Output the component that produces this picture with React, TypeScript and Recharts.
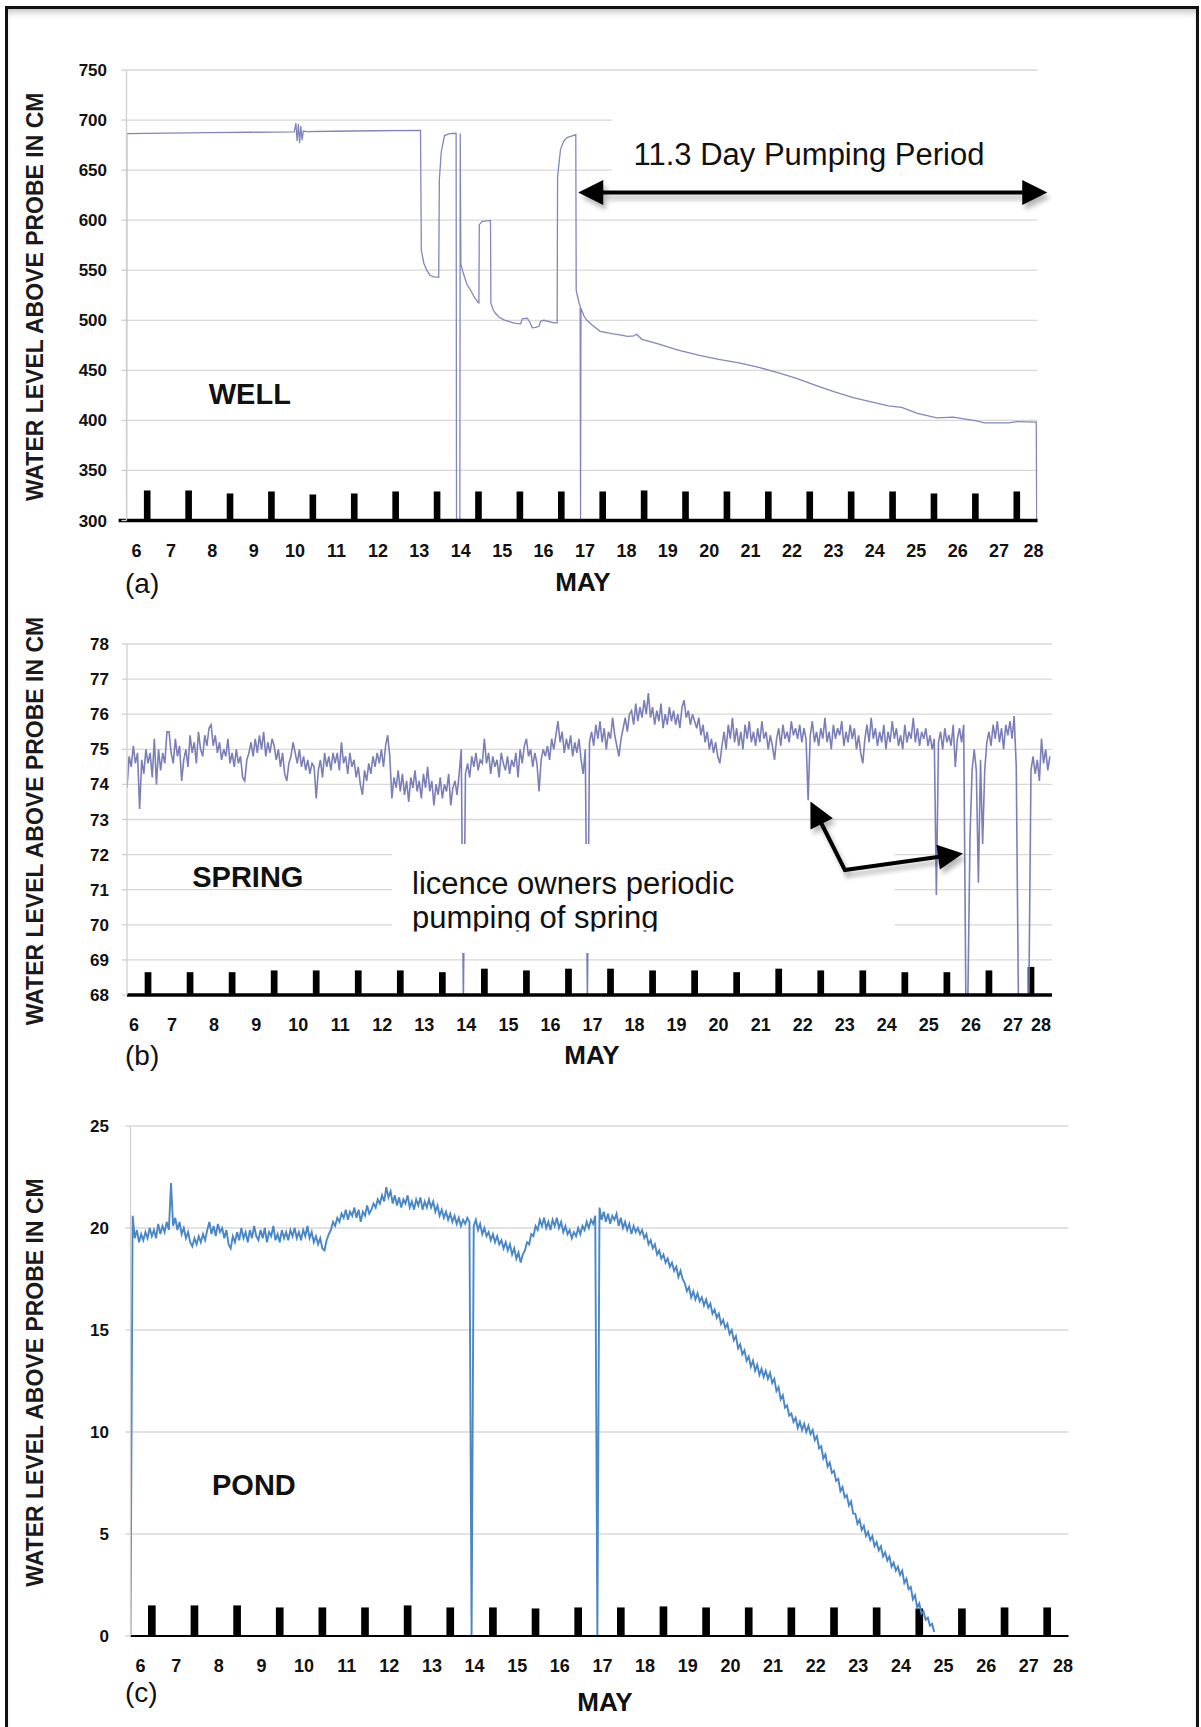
import React from "react";
import { LineChart, Line, XAxis, YAxis, CartesianGrid, ReferenceArea, ReferenceLine } from "recharts";

const FONT = '"Liberation Sans", Arial, Helvetica, sans-serif';

// ---------- shared axis data ----------
const DAYS = [6, 7, 8, 9, 10, 11, 12, 13, 14, 15, 16, 17, 18, 19, 20, 21, 22, 23, 24, 25, 26, 27, 28];
const BAR_DAYS = [6.5, 7.5, 8.5, 9.5, 10.5, 11.5, 12.5, 13.5, 14.5, 15.5, 16.5, 17.5, 18.5, 19.5, 20.5, 21.5, 22.5, 23.5, 24.5, 25.5, 26.5, 27.5];
const Y_TITLE = "WATER LEVEL ABOVE PROBE IN CM";
const X_TITLE = "MAY";

// ---------- (a) WELL ----------
const WELL_DAYS = [
  6.0, 6.005, 7.0, 8.0, 9.0, 10.05, 10.09, 10.12, 10.15, 10.18, 10.21, 10.24, 10.27, 10.35, 11.0, 12.0,
  13.1, 13.12, 13.18, 13.25, 13.33, 13.42, 13.54, 13.555, 13.6, 13.68, 13.8, 13.96, 13.97, 14.05, 14.06,
  14.075, 14.12, 14.22, 14.31, 14.4, 14.47, 14.51, 14.52, 14.59, 14.79, 14.8, 14.86, 14.91, 15.0, 15.11,
  15.36, 15.52, 15.56, 15.68, 15.74, 15.8, 15.88, 15.96, 16.0, 16.08, 16.32, 16.4, 16.41, 16.48, 16.56,
  16.64, 16.85, 16.86, 16.93, 16.955, 16.965, 16.975, 17.05, 17.12, 17.25, 17.44, 17.75, 17.92, 18.1,
  18.25, 18.32, 18.45, 18.88, 19.3, 19.84, 20.3, 20.79, 21.27, 21.75, 22.18, 22.71, 23.1, 23.57, 24.14,
  24.4, 24.72, 25.1, 25.57, 25.96, 26.53, 26.72, 27.3, 27.5, 27.97, 27.98,
];
const WELL_LEVELS = [
  300, 686.5, 687.0, 687.4, 687.8, 688.2, 697, 679, 696, 677, 694, 680, 689, 688.5, 688.8, 689.3,
  689.6, 570, 557, 550, 545, 543.3, 543, 640, 668, 684.5, 686.5, 686.8, 300, 300, 686.5,
  556, 549, 536, 530, 523, 519, 517.5, 595.5, 598.8, 599.8, 517, 510, 507, 503, 500.5,
  497.2, 496.5, 501.5, 502, 498, 492.5, 493, 494, 499, 500, 497.5, 497.5, 643, 670.5, 679,
  682.5, 685.5, 530, 517, 514.5, 300, 512, 504, 500, 495, 489, 486.5, 485.5, 484,
  484.5, 486, 481, 476, 470.5, 465, 461, 457.5, 453, 447.4, 442, 434, 428.5, 422.5, 417,
  414.5, 413, 407, 402.6, 403.2, 399.5, 397.6, 397.6, 398.8, 398.3, 300,
];
const WELL_TICKS = [300, 350, 400, 450, 500, 550, 600, 650, 700, 750];
const WELL_BAR_TOPS = [330, 330, 327, 329, 326, 327, 329, 329, 329, 329, 329, 329, 330, 329, 329, 329, 329, 329, 329, 327, 327, 329];
const PUMPING_ARROW = { fromDay: 16.91, toDay: 28.236, level: 627.6 };
const PUMPING_BOX = { fromDay: 17.72, toDay: 28.3, low: 605, high: 742 };

// ---------- (b) SPRING ----------
const SPRING_START_DAY = 6;
const SPRING_STEP_DAY = 0.05;
const SPRING_LEVELS = [
  73.9, 74.8, 74.5, 75.1, 74.6, 74.9, 73.3, 74.7, 74.3, 75.0, 74.6, 74.9, 74.2, 75.3, 74.0, 75.0, 74.4, 74.9, 74.6, 75.5,
  75.5, 74.9, 74.6, 75.3, 74.8, 75.1, 74.1, 74.7, 75.0, 74.5, 75.4, 74.9, 75.2, 74.6, 75.5, 75.0, 74.8, 75.4, 75.1, 75.6,
  75.7, 75.1, 75.4, 74.9, 75.2, 74.7, 75.0, 74.8, 75.3, 74.6, 74.9, 74.5, 75.0, 74.6, 74.8, 74.2, 74.1, 74.7, 74.9, 75.2,
  74.8, 75.3, 74.9, 75.4, 75.0, 75.5, 74.8, 75.2, 74.9, 75.3, 75.1, 74.7, 75.0, 74.5, 74.9, 74.3, 74.1, 74.6, 74.8, 75.2,
  74.9, 74.6, 75.0, 74.5, 74.8, 74.4, 74.7, 74.3, 74.6, 74.5, 73.6, 74.4, 74.7, 74.2, 74.9, 74.5, 74.8, 74.4, 74.9, 74.6,
  74.9, 74.4, 75.2, 74.6, 74.8, 74.3, 74.9, 74.5, 74.7, 74.2, 74.5, 74.0, 73.7, 74.4, 74.1, 74.6, 74.3, 74.8, 74.5, 74.9,
  74.6, 75.0, 74.5, 75.1, 75.4, 74.8, 73.6, 74.2, 73.9, 74.4, 73.8, 74.3, 73.7, 74.1, 73.5, 74.2, 73.9, 74.4, 73.8, 74.1,
  73.6, 74.3, 73.9, 74.5, 73.8, 74.1, 73.4, 74.0, 73.7, 74.2, 73.6, 74.0, 73.8, 74.3, 73.4, 73.9, 74.1, 73.7, 74.3, 75.0,
  68, 74.3, 74.6, 74.2, 74.8, 74.5, 74.9, 74.4, 74.7, 74.6, 75.3, 74.6, 74.9, 74.3, 74.8, 74.5, 74.7, 74.2, 74.9, 74.6,
  74.4, 74.8, 74.3, 74.7, 74.5, 74.9, 74.2, 75.0, 74.6, 75.1, 75.3, 74.8, 75.0, 74.5, 74.9, 74.6, 73.8, 74.7, 75.0, 74.8,
  75.1, 74.7, 75.3, 75.0, 75.4, 75.8, 75.2, 75.5, 74.9, 75.3, 75.0, 75.4, 74.8, 75.2, 74.9, 75.3, 74.7, 74.3, 75.0, 68,
  75.2, 75.5, 75.1, 75.7, 75.3, 75.8, 75.2, 75.6, 75.0, 75.5, 75.3, 75.9, 75.4, 75.1, 74.8, 75.3, 75.6, 75.9, 75.5, 76.0,
  76.1, 75.7, 76.3, 75.8, 76.2, 75.9, 76.4, 76.0, 76.6, 75.9, 76.2, 75.7, 76.1, 75.8, 76.3, 75.6, 76.0, 75.7, 76.2, 75.8,
  76.1, 75.7, 76.0, 75.6, 76.2, 76.4, 75.9, 76.1, 75.7, 76.0, 75.8, 75.6, 75.9, 75.4, 75.7, 75.2, 75.5, 75.0, 75.3, 74.9,
  75.2, 74.8, 74.6, 75.1, 75.5, 75.0, 75.7, 75.3, 75.9, 75.2, 75.6, 75.1, 75.5, 75.0, 75.7, 75.3, 75.8, 75.2, 75.5, 75.1,
  75.6, 75.2, 75.8, 75.3, 75.5, 75.0, 75.4, 75.1, 74.7, 75.3, 75.6, 75.1, 75.7, 75.3, 75.5, 75.2, 75.8, 75.4, 75.6, 75.3,
  75.7, 75.2, 75.6, 75.3, 73.55, 75.4, 75.8, 75.2, 75.5, 75.1, 75.6, 75.3, 75.9, 75.2, 75.5, 75.0, 75.7, 75.3, 75.6, 75.4,
  75.8, 75.1, 75.5, 75.2, 75.7, 75.3, 75.6, 75.0, 75.4, 74.9, 74.6, 75.3, 75.7, 75.2, 75.9, 75.3, 75.6, 75.1, 75.5, 75.2,
  75.7, 75.0, 75.5, 75.2, 75.8, 75.3, 75.6, 75.1, 75.4, 75.0, 75.7, 75.2, 75.5, 75.3, 75.9, 75.2, 75.6, 75.1, 75.5, 75.3,
  75.6, 75.1, 75.4, 75.0, 75.3, 70.85, 75.2, 75.5, 75.0, 75.6, 75.2, 75.4, 75.1, 75.7, 74.5, 75.3, 75.6, 75.2, 75.7, 68,
  68, 72.5, 74.4, 75.0, 74.4, 71.2, 74.7, 72.3, 74.4, 75.2, 75.5, 75.1, 75.7, 75.3, 75.8, 75.2, 75.6, 75.0, 75.7, 75.4,
  75.8, 75.3, 75.95, 74.5, 68, 68, 68, 68, 68, 68, 74.4, 74.8, 74.3, 74.7, 74.1, 75.3, 74.6, 75.0, 74.4, 74.8,
];
const SPRING_TICKS = [68, 69, 70, 71, 72, 73, 74, 75, 76, 77, 78];
const SPRING_BAR_TOPS = [68.65, 68.65, 68.65, 68.7, 68.7, 68.7, 68.7, 68.65, 68.75, 68.7, 68.75, 68.75, 68.7, 68.7, 68.65, 68.75, 68.7, 68.7, 68.65, 68.65, 68.7, 68.8];
const SPRING_ARROW_VERTEX = { day: 23.075, level: 71.56 };
const SPRING_ARROW_TIPS = [
  { day: 22.254, level: 73.51 },
  { day: 25.881, level: 72.03 },
];
const SPRING_NOTE_BOX = { fromDay: 12.3, toDay: 24.26, low: 69.2, high: 72.3 };

// ---------- (c) POND ----------
const POND_START_DAY = 6;
const POND_STEP_DAY = 0.05;
const POND_LEVELS = [
  0, 20.6, 19.5, 19.9, 19.3, 19.7, 19.4, 19.8, 19.5, 20.0, 19.6, 19.9, 19.5, 20.2, 19.7, 20.1, 19.8, 20.3, 19.9, 22.2,
  20.1, 20.5, 19.9, 20.3, 19.7, 20.0, 19.5, 19.8, 19.3, 19.1, 19.5, 19.2, 19.6, 19.3, 19.7, 19.4, 19.9, 20.3, 19.7, 20.1,
  19.6, 20.2, 19.8, 20.0, 19.5, 19.9, 19.2, 19.0, 19.6, 19.3, 19.8, 19.4, 20.0, 19.5, 19.8, 19.3, 19.9, 19.5, 20.1, 19.6,
  19.4, 19.9, 19.5, 20.0, 19.3, 19.8, 19.6, 20.1, 19.4, 19.7, 19.3, 19.9, 19.5, 19.8, 19.4, 19.9, 19.6, 20.0, 19.5, 19.8,
  19.4, 19.9, 19.6, 20.1, 19.5, 19.8, 19.3, 19.6, 19.2, 19.5, 19.0, 18.9, 19.4, 19.7, 19.9, 20.3, 20.1, 20.5, 20.3, 20.7,
  20.5, 20.9, 20.4, 20.8, 20.6, 21.0, 20.5, 20.9, 20.3, 20.8, 20.6, 21.1, 20.7, 20.9, 21.2, 21.0, 21.4, 21.2, 21.6, 21.3,
  22.0, 21.5, 21.8, 21.2, 21.6, 21.1, 21.5, 21.0, 21.4, 21.2, 21.6, 21.0, 21.3, 20.9, 21.4, 21.1, 21.5, 20.9, 21.3, 21.0,
  21.4, 21.0, 21.3, 20.8, 21.1, 20.6, 20.9, 20.5, 20.8, 20.4, 20.7, 20.3, 20.6, 20.2, 20.5, 20.1, 20.4, 20.2, 20.5, 20.3,
  0, 20.1, 20.4, 19.9, 20.2, 19.7, 20.0, 19.6, 19.8, 19.4, 19.7, 19.3, 19.6, 19.2, 19.4, 19.0, 19.3, 18.9, 19.2, 18.7,
  19.0, 18.5, 18.8, 18.3, 18.7, 18.9, 19.3, 19.2, 19.7, 19.6, 20.1, 19.9, 20.4, 20.1, 20.5, 20.0, 20.3, 19.9, 20.4, 20.1,
  20.5, 20.0, 20.3, 19.8, 20.1, 19.7, 19.9, 19.5, 19.8, 19.6, 20.0, 19.7, 20.1, 19.9, 20.3, 20.0, 20.4, 20.2, 20.6, 0,
  21.0, 20.4, 20.8, 20.3, 20.7, 20.2, 20.6, 20.4, 20.7, 20.1, 20.5, 20.0, 20.3, 19.9, 20.2, 19.7, 20.1, 19.8, 20.0, 19.7,
  19.9, 19.5, 19.7, 19.2, 19.4, 19.0, 19.2, 18.7, 18.9, 18.5, 18.7, 18.3, 18.5, 18.1, 18.3, 17.9, 18.1, 17.6, 17.9, 17.5,
  17.3, 16.9, 17.1, 16.6, 16.9, 16.5, 16.8, 16.4, 16.6, 16.2, 16.5, 16.1, 16.3, 15.8, 16.0, 15.6, 15.8, 15.3, 15.5, 15.1,
  15.3, 14.8, 15.0, 14.5, 14.7, 14.1, 14.3, 13.8, 14.0, 13.5, 13.7, 13.2, 13.5, 13.0, 13.3, 12.8, 13.1, 12.7, 13.0, 12.6,
  12.9, 12.4, 12.6, 12.0, 12.2, 11.6, 11.8, 11.2, 11.3, 10.8, 10.9, 10.5, 10.7, 10.2, 10.5, 10.1, 10.4, 10.0, 10.3, 9.9,
  10.1, 9.6, 9.8, 9.2, 9.3, 8.7, 8.9, 8.3, 8.5, 8.0, 8.1, 7.6, 7.7, 7.1, 7.3, 6.8, 6.9, 6.4, 6.6, 6.0,
  6.0, 5.5, 5.7, 5.2, 5.4, 4.9, 5.1, 4.7, 4.9, 4.4, 4.6, 4.2, 4.4, 3.9, 4.1, 3.7, 3.9, 3.4, 3.6, 3.2,
  3.4, 3.0, 3.2, 2.6, 2.8, 2.3, 2.4, 1.8, 2.0, 1.4, 1.6, 1.1, 1.2, 0.8, 0.9, 0.5, 0.6, 0.2,
];
const POND_TICKS = [0, 5, 10, 15, 20, 25];
const POND_BAR_TOPS = [1.5, 1.5, 1.5, 1.4, 1.4, 1.4, 1.5, 1.4, 1.4, 1.35, 1.4, 1.4, 1.45, 1.4, 1.4, 1.4, 1.4, 1.4, 1.35, 1.35, 1.4, 1.4];

// ---------- derived series ----------
type Pt = { day: number; level: number };
const wellData: Pt[] = WELL_DAYS.map((d, i) => ({ day: d, level: WELL_LEVELS[i] }));
const springData: Pt[] = SPRING_LEVELS.map((v, i) => ({ day: SPRING_START_DAY + i * SPRING_STEP_DAY, level: v }));
const pondData: Pt[] = POND_LEVELS.map((v, i) => ({ day: POND_START_DAY + i * POND_STEP_DAY, level: v }));

// ---------- arrow shape (drawn from ReferenceLine end points) ----------
function arrowShape(headAtStart: boolean, headAtEnd: boolean) {
  return (p: any) => {
    const x1 = Number(p.x1), y1 = Number(p.y1), x2 = Number(p.x2), y2 = Number(p.y2);
    if (![x1, y1, x2, y2].every((n) => Number.isFinite(n))) return <g />;
    const len = Math.hypot(x2 - x1, y2 - y1) || 1;
    const ux = (x2 - x1) / len, uy = (y2 - y1) / len;
    const L = 25, W = 12.5;
    const head = (tx: number, ty: number, dx: number, dy: number) => {
      const bx = tx - dx * L, by = ty - dy * L;
      return `${tx},${ty} ${bx - dy * W},${by + dx * W} ${bx + dy * W},${by - dx * W}`;
    };
    const sx = headAtStart ? x1 + ux * (L - 3) : x1;
    const sy = headAtStart ? y1 + uy * (L - 3) : y1;
    const ex = headAtEnd ? x2 - ux * (L - 3) : x2;
    const ey = headAtEnd ? y2 - uy * (L - 3) : y2;
    const parts = (fill: string) => (
      <g>
        <line x1={sx} y1={sy} x2={ex} y2={ey} stroke={fill} strokeWidth={4} strokeLinecap="round" />
        {headAtStart ? <polygon points={head(x1, y1, -ux, -uy)} fill={fill} /> : null}
        {headAtEnd ? <polygon points={head(x2, y2, ux, uy)} fill={fill} /> : null}
      </g>
    );
    return (
      <g>
        <g transform="translate(3,5)" opacity={0.28} filter="url(#arrowBlur)">{parts("#000")}</g>
        {parts("#000")}
      </g>
    );
  };
}

// ---------- one panel ----------
type PanelProps = {
  data: Pt[];
  plotTop: number;
  plotLeft: number;
  plotRight: number;
  plotH: number;
  domain: [number, number];
  ticks: number[];
  barTops: number[];
  barHalf: number;
  color: string;
  lineWidth: number;
  baseWidth: number;
  baseFrom: number;
  yTickMargin: number;
  firstDx: number;
  lastDx: number;
  mayDx: number;
  mayBase: number;
  extras: React.ReactElement[];
};

const M_TOP = 60;
const XH = 90;

function Panel(p: PanelProps) {
  const height = M_TOP + p.plotH + XH;
  const xTick = (t: any) => {
    const n = DAYS.length;
    const dx = t.index === 0 ? p.firstDx : t.index === n - 1 ? p.lastDx : 3;
    return (
      <text x={t.x + dx} y={t.y + 36} textAnchor="middle" fontSize={18} fontWeight={700} fill="#111" fontFamily={FONT}>
        {t.payload.value}
      </text>
    );
  };
  const mayLabel = () => (
    <text
      x={(p.plotLeft + p.plotRight) / 2 + p.mayDx}
      y={M_TOP + p.plotH + p.mayBase}
      textAnchor="middle"
      fontSize={26}
      fontWeight={700}
      fill="#111"
      fontFamily={FONT}
    >
      {X_TITLE}
    </text>
  );
  const yTitle = () => {
    const cx = 34.5;
    const cy = M_TOP + p.plotH / 2 + 1.5;
    return (
      <text
        x={cx}
        y={cy + 8.2}
        transform={`rotate(-90 ${cx} ${cy})`}
        textAnchor="middle"
        fontSize={23}
        fontWeight={700}
        fill="#1a1a1a"
        fontFamily={FONT}
      >
        {Y_TITLE}
      </text>
    );
  };
  const bars = BAR_DAYS.map((d, i) => (
    <ReferenceArea
      key={"bar" + i}
      x1={d - p.barHalf}
      x2={d + p.barHalf}
      y1={p.domain[0]}
      y2={p.barTops[i]}
      fill="#000"
      fillOpacity={1}
      stroke="none"
      strokeWidth={0}
      ifOverflow="visible"
    />
  ));
  return (
    <div style={{ position: "absolute", left: 0, top: p.plotTop - M_TOP, width: 1201, height }}>
      <LineChart
        width={1201}
        height={height}
        data={p.data}
        margin={{ top: M_TOP, right: 1201 - p.plotRight, bottom: 0, left: 0 }}
      >
        <CartesianGrid vertical={false} stroke="#d8d8d8" strokeWidth={1.3} />
        <XAxis
          type="number"
          dataKey="day"
          domain={[6, 28]}
          ticks={DAYS}
          interval={0}
          allowDataOverflow
          axisLine={false}
          tickLine={false}
          tickSize={0}
          tickMargin={0}
          height={XH}
          tick={xTick}
          label={mayLabel}
        />
        <YAxis
          type="number"
          domain={p.domain}
          ticks={p.ticks}
          interval={0}
          allowDataOverflow
          width={p.plotLeft}
          tickSize={5}
          tickMargin={p.yTickMargin}
          axisLine={{ stroke: "#cfcfcf", strokeWidth: 1.3 }}
          tickLine={{ stroke: "#cfcfcf", strokeWidth: 1.3 }}
          tick={{ fill: "#111", fontSize: 17, fontWeight: 700, fontFamily: FONT }}
          label={yTitle}
        />
        <Line
          dataKey="level"
          type="linear"
          stroke={p.color}
          strokeWidth={p.lineWidth}
          dot={false}
          activeDot={false}
          isAnimationActive={false}
        />
        {bars}
        <ReferenceLine
          segment={[
            { x: p.baseFrom, y: p.domain[0] },
            { x: 28, y: p.domain[0] },
          ]}
          stroke="#000"
          strokeWidth={p.baseWidth}
          ifOverflow="visible"
        />
        {p.extras}
      </LineChart>
    </div>
  );
}

export default function App() {
  const wellExtras = [
    <ReferenceArea
      key="wbox"
      x1={PUMPING_BOX.fromDay}
      x2={PUMPING_BOX.toDay}
      y1={PUMPING_BOX.low}
      y2={PUMPING_BOX.high}
      fill="#fff"
      fillOpacity={1}
      stroke="none"
      ifOverflow="visible"
      zIndex={450}
    />,
    <ReferenceLine
      key="warrow"
      segment={[
        { x: PUMPING_ARROW.fromDay, y: PUMPING_ARROW.level },
        { x: PUMPING_ARROW.toDay, y: PUMPING_ARROW.level },
      ]}
      ifOverflow="visible"
      stroke="#000"
      shape={arrowShape(true, true)}
      zIndex={600}
    />,
  ];
  const springExtras = [
    <ReferenceArea
      key="sbox"
      x1={SPRING_NOTE_BOX.fromDay}
      x2={SPRING_NOTE_BOX.toDay}
      y1={SPRING_NOTE_BOX.low}
      y2={SPRING_NOTE_BOX.high}
      fill="#fff"
      fillOpacity={1}
      stroke="none"
      ifOverflow="visible"
      zIndex={450}
    />,
    ...SPRING_ARROW_TIPS.map((t, i) => (
      <ReferenceLine
        key={"sarrow" + i}
        segment={[
          { x: SPRING_ARROW_VERTEX.day, y: SPRING_ARROW_VERTEX.level },
          { x: t.day, y: t.level },
        ]}
        ifOverflow="visible"
        stroke="#000"
        shape={arrowShape(false, true)}
        zIndex={600}
      />
    )),
  ];

  return (
    <div
      style={{
        position: "absolute",
        left: 0,
        top: 0,
        width: 1201,
        height: 1727,
        overflow: "hidden",
        background: "#fff",
        fontFamily: FONT,
      }}
    >
      <div
        style={{
          position: "absolute",
          left: 5,
          top: 6,
          width: 1194,
          height: 1740,
          border: "3px solid #111",
          boxSizing: "border-box",
          boxShadow: "inset 0 6px 7px -3px rgba(0,0,0,0.25)",
        }}
      />
      <Panel
        data={wellData}
        plotTop={70}
        plotLeft={126.5}
        plotRight={1037.5}
        plotH={450.5}
        domain={[300, 750]}
        ticks={WELL_TICKS}
        barTops={WELL_BAR_TOPS}
        barHalf={0.08}
        color="#8486bb"
        lineWidth={1.3}
        baseWidth={3.5}
        baseFrom={5.81}
        yTickMargin={14.5}
        firstDx={10}
        lastDx={-4}
        mayDx={1}
        mayBase={70.5}
        extras={wellExtras}
      />
      <Panel
        data={springData}
        plotTop={644}
        plotLeft={127}
        plotRight={1052}
        plotH={351}
        domain={[68, 78]}
        ticks={SPRING_TICKS}
        barTops={SPRING_BAR_TOPS}
        barHalf={0.08}
        color="#7b7fb6"
        lineWidth={1.6}
        baseWidth={3.5}
        baseFrom={6}
        yTickMargin={13}
        firstDx={7}
        lastDx={-11}
        mayDx={2.5}
        mayBase={69}
        extras={springExtras}
      />
      <Panel
        data={pondData}
        plotTop={1126}
        plotLeft={130.5}
        plotRight={1068.5}
        plotH={510}
        domain={[0, 25]}
        ticks={POND_TICKS}
        barTops={POND_BAR_TOPS}
        barHalf={0.09}
        color="#4a87c6"
        lineWidth={1.9}
        baseWidth={2}
        baseFrom={6}
        yTickMargin={16.5}
        firstDx={10}
        lastDx={-5.5}
        mayDx={5.5}
        mayBase={75}
        extras={[]}
      />
      <svg
        width={1201}
        height={1727}
        style={{ position: "absolute", left: 0, top: 0, pointerEvents: "none" }}
        fontFamily={FONT}
      >
        <defs>
          <filter id="arrowBlur" x="-20%" y="-50%" width="140%" height="200%">
            <feGaussianBlur stdDeviation="2.5" />
          </filter>
          <clipPath id="noteClip">
            <rect x={380} y={840} width={520} height={91.6} />
          </clipPath>
        </defs>
        <text x={125} y={593} fontSize={28} fill="#111">(a)</text>
        <text x={125} y={1065} fontSize={28} fill="#111">(b)</text>
        <text x={125} y={1702} fontSize={28} fill="#111">(c)</text>
        <text x={249.8} y={403.5} fontSize={29} fontWeight={700} textAnchor="middle" fill="#111">WELL</text>
        <text x={247.8} y={886.8} fontSize={29} fontWeight={700} textAnchor="middle" fill="#111">SPRING</text>
        <text x={253.9} y={1495} fontSize={29} fontWeight={700} textAnchor="middle" fill="#111">POND</text>
        <text x={633.5} y={165} fontSize={31} fill="#111">11.3 Day Pumping Period</text>
        <g clipPath="url(#noteClip)">
          <text x={412} y={893.5} fontSize={31} fill="#111">licence owners periodic</text>
          <text x={412} y={928} fontSize={31} fill="#111">pumping of spring</text>
        </g>
      </svg>
    </div>
  );
}
